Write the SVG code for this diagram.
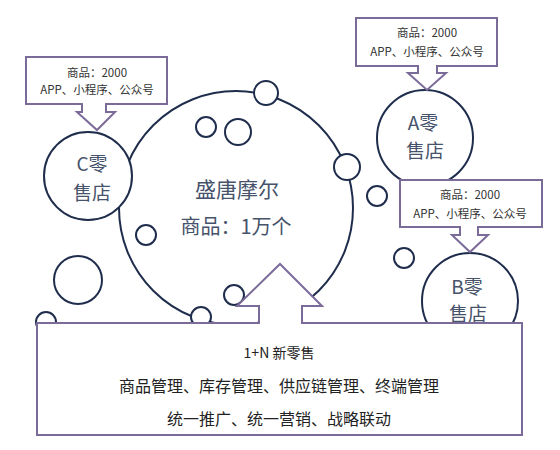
<svg xmlns="http://www.w3.org/2000/svg" width="560" height="450" viewBox="0 0 560 450">
<style>
.c{fill:#fff;stroke:#1f2d4c;stroke-width:2}
.b{fill:#fff;stroke:#7b6b99;stroke-width:2;stroke-linejoin:miter}
.t{font-family:"Noto Sans CJK SC","Liberation Sans",sans-serif;fill:#46536b;text-anchor:middle}
.s{font-family:"Noto Sans CJK SC","Liberation Sans",sans-serif;fill:#333;text-anchor:middle;font-size:11.5px}
.m{font-family:"Noto Sans CJK SC","Liberation Sans",sans-serif;fill:#222;text-anchor:middle}
</style>
<rect width="560" height="450" fill="#fff"/>
<g id="bubbles">
<circle class="c" cx="78" cy="280" r="24"/>
<circle class="c" cx="46" cy="322" r="10"/>
<circle class="c" cx="377" cy="196" r="10"/>
<circle class="c" cx="404" cy="258" r="10"/>
</g>
<g id="main">
<circle class="c" cx="236" cy="208" r="117"/>
<circle class="c" cx="266" cy="93" r="12"/>
<circle class="c" cx="206" cy="127" r="10"/>
<circle class="c" cx="238" cy="132" r="13"/>
<circle class="c" cx="347" cy="167" r="13"/>
<circle class="c" cx="146" cy="235" r="10"/>
<circle class="c" cx="234" cy="295" r="10"/>
<circle class="c" cx="201" cy="317" r="10"/>
<text class="t" x="237" y="197" font-size="21">盛唐摩尔</text>
<text class="t" x="236" y="234" font-size="20">商品：1万个</text>
</g>
<g id="storeC">
<circle class="c" cx="88" cy="176" r="44"/>
<text class="t" x="92" y="171" font-size="19">C零</text>
<text class="t" x="92" y="200" font-size="19">售店</text>
</g>
<g id="storeA">
<circle class="c" cx="425" cy="138" r="48"/>
<text class="t" x="423" y="130" font-size="19">A零</text>
<text class="t" x="425" y="158" font-size="19">售店</text>
</g>
<g id="storeB">
<circle class="c" cx="470" cy="301" r="48"/>
<text class="t" x="467" y="294" font-size="19">B零</text>
<text class="t" x="468" y="321" font-size="19">售店</text>
</g>
<g id="calloutC">
<path class="b" d="M26 57H167V104H106V112H115L97 130L77 112H82V104H26Z"/>
<text class="s" x="97" y="77">商品：2000</text>
<text class="s" x="97" y="94">APP、小程序、公众号</text>
</g>
<g id="calloutA">
<path class="b" d="M356 18H497V66H437V73H446L427 90L408 73H418V66H356Z"/>
<text class="s" x="427" y="37">商品：2000</text>
<text class="s" x="427" y="56">APP、小程序、公众号</text>
</g>
<g id="calloutB">
<path class="b" d="M400 180H542V227H478V235H488L470 252L452 235H460V227H400Z"/>
<text class="s" x="470" y="199">商品：2000</text>
<text class="s" x="470" y="218">APP、小程序、公众号</text>
</g>
<g id="platform">
<path class="b" d="M37 323H259V306H237L280 264L322 306H302V323H522V435H37Z"/>
<text class="m" x="279" y="358" font-size="14">1+N 新零售</text>
<text class="m" x="279" y="392" font-size="16">商品管理、库存管理、供应链管理、终端管理</text>
<text class="m" x="279" y="425" font-size="16">统一推广、统一营销、战略联动</text>
</g>
</svg>
